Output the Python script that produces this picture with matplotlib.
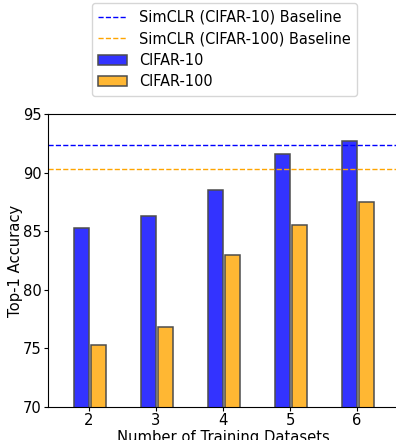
import matplotlib
matplotlib.use("Agg")
import matplotlib.pyplot as plt
from matplotlib.colors import to_rgba
import numpy as np

datasets = [2, 3, 4, 5, 6]
cifar10 = [85.3, 86.3, 88.5, 91.6, 92.7]
cifar100 = [75.3, 76.8, 83.0, 85.5, 87.5]
baseline_c10 = 92.35
baseline_c100 = 90.3

fs = 10.6
fig = plt.figure(figsize=(3.96, 4.4), dpi=100)
ax = fig.add_axes([48/396, 1-407/440, 350/396, 293/440])

x = np.array(datasets)
w = 0.225
edge = (0.3, 0.3, 0.3)
ax.axhline(baseline_c10, color='blue', ls='--', lw=1, label='SimCLR (CIFAR-10) Baseline')
ax.axhline(baseline_c100, color='orange', ls='--', lw=1, label='SimCLR (CIFAR-100) Baseline')
ax.bar(x - 0.108, cifar10, width=w, color=to_rgba('blue', 0.8), edgecolor=edge, lw=1.1, label='CIFAR-10')
ax.bar(x + 0.143, cifar100, width=w, color=to_rgba('orange', 0.8), edgecolor=edge, lw=1.1, label='CIFAR-100')

ax.set_ylim(70, 95)
ax.set_xlim(1.39, 6.61)
ax.set_xticks(datasets)
ax.set_yticks([70, 75, 80, 85, 90, 95])
ax.tick_params(labelsize=fs, length=3, pad=1.5)
ax.set_xlabel('Number of Training Datasets', fontsize=fs, labelpad=1)
ax.set_ylabel('Top-1 Accuracy', fontsize=fs, labelpad=-0.3)

fig.legend(loc='upper center', bbox_to_anchor=(0.567, 0.993), fontsize=10.45,
           handlelength=2.0, borderpad=0.45, labelspacing=0.45, borderaxespad=0)

fig.savefig('out.png', dpi=100)
